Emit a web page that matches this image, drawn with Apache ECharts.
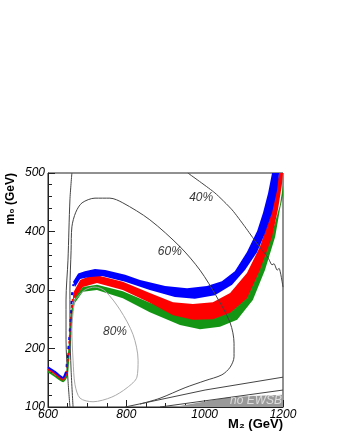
<!DOCTYPE html>
<html>
<head>
<meta charset="utf-8">
<script src="https://cdn.jsdelivr.net/npm/echarts@6/dist/echarts.min.js"></script>
<style>
  html, body { margin: 0; padding: 0; background: #fff; }
  #chart { width: 340px; height: 440px; }
</style>
</head>
<body>
<div id="chart"></div>
<script>
// M2 (GeV), m0 (GeV) pairs

// band edges (upper = top/left edge, lower = bottom/right edge)
const blueUpper = [[664,314],[677,328],[694,332],[720,336],[746,334],[797,326],[835,317],[899,307],[955,303],[1006,307],[1044,315],[1077,332],[1108,365],[1134,401],[1149,432],[1162,466],[1172,500]];
const blueLower = [[669,305],[682,319],[702,322],[738,324],[797,314],[860,300],[924,288],[975,285],[1026,291],[1070,309],[1103,334],[1134,365],[1154,397],[1172,432],[1185,471],[1190,500]];
const redUpper = [[664,295],[682,317],[707,324],[733,324],[791,314],[860,295],[919,279],[970,276],[1021,279],[1065,295],[1108,329],[1141,374],[1167,425],[1182,471],[1190,500]];
const redLower = [[664,283],[689,305],[725,312],[791,300],[860,278],[919,257],[970,249],[1021,250],[1065,261],[1108,286],[1141,334],[1172,391],[1187,437],[1197,479],[1200,500]];
const greenUpper = [[669,290],[689,305],[725,309],[791,298],[860,278],[919,263],[970,256],[1021,256],[1065,266],[1108,291],[1141,343],[1172,397],[1192,445],[1200,479]];
const greenLower = [[669,278],[689,297],[725,300],[791,286],[860,262],[937,240],[988,233],[1039,237],[1083,249],[1123,283],[1154,334],[1180,391],[1192,437],[1200,462]];

// thin part of the bands at low M2
const blueFlat = [[600,168],[618,160],[638,150],[646,160]];
const blueRise = [[646,160],[649,180],[654,215],[659,266],[661,291],[665,310]];
const redFlat = [[600,165],[618,157],[638,147],[647,157]];
const redRise = [[647,157],[650,178],[655,213],[660,264],[664,289]];
const greenThin = [[600,161],[618,153],[639,144],[648,154],[651,175],[656,210],[661,262],[668,284]];

// contours
const contour40 = [[957,500],[1026,466],[1070,437],[1103,408],[1133,380],[1162,355],[1172,343],[1177,345],[1185,334],[1190,337],[1200,305]];
const contour60 = [[664,100],[659,163],[656,232],[656,300],[659,368],[661,408],[671,433],[687,449],[720,457],[758,457],[791,449],[860,420],[937,374],[988,334],[1031,288],[1065,244],[1075,209],[1075,186],[1065,168],[1044,155],[1001,145],[950,133],[886,115],[835,105]];
const contourOuter = [[661,500],[656,454],[651,351],[646,283],[646,215],[651,146],[656,100]];
const contour80 = [[669,283],[694,300],[720,305],[746,298],[784,266],[817,224],[830,180],[827,151],[802,133],[763,117],[715,109],[682,115],[669,138],[664,180],[661,232],[666,274],[669,283]];
const lineLow1 = [[797,100],[1001,129],[1200,151]];
const lineLow2 = [[886,100],[1200,129]];
const noEwsb = [[922,100],[1065,117],[1200,121]];

const labelNames = ['40%', '60%', '80%'];
const labelPos = [[991,457],[911,365],[771,229]];
const noEwsbPos = [1131,110];

const font = 'Liberation Sans, Arial, Helvetica, sans-serif';

function band(upper, lower, color) {
  const outline = upper.concat(lower.slice().reverse());
  return {
    type: 'custom',
    coordinateSystem: 'cartesian2d',
    clip: true,
    silent: true,
    z: 3,
    data: [[600, 100]],
    renderItem: (params, api) => ({
      type: 'polygon',
      shape: { points: outline.map(p => api.coord(p)) },
      style: { fill: color }
    })
  };
}

function curve(data, color, width, extra) {
  return Object.assign({
    type: 'line',
    data: data,
    showSymbol: false,
    symbol: 'none',
    silent: true,
    smooth: 0.3,
    z: 4,
    lineStyle: { color: color, width: width }
  }, extra || {});
}

const chart = echarts.init(document.getElementById('chart'), null, { renderer: 'canvas' });

chart.setOption({
  animation: false,
  backgroundColor: '#fff',
  grid: { left: 48, right: 57, top: 173, bottom: 33, show: true, borderColor: '#222', borderWidth: 1 },
  xAxis: {
    type: 'value', min: 600, max: 1200, interval: 200,
    axisLine: { show: true, lineStyle: { color: '#222', width: 1 } },
    axisTick: { show: true, inside: true, length: 7, lineStyle: { color: '#222' } },
    minorTick: { show: true, splitNumber: 4, length: 4, lineStyle: { color: '#222' } },
    splitLine: { show: false },
    axisLabel: { color: '#000', fontSize: 12, fontStyle: 'italic', fontFamily: font, margin: 2, showMinLabel: true, showMaxLabel: true, formatter: v => String(v) }
  },
  yAxis: {
    type: 'value', min: 100, max: 500, interval: 100,
    axisLine: { show: true, lineStyle: { color: '#222', width: 1 } },
    axisTick: { show: true, inside: true, length: 7, lineStyle: { color: '#222' } },
    minorTick: { show: true, splitNumber: 5, length: 4, lineStyle: { color: '#222' } },
    splitLine: { show: false },
    axisLabel: { color: '#000', fontSize: 12, fontStyle: 'italic', fontFamily: font, margin: 3, showMinLabel: true, showMaxLabel: true, formatter: v => String(v) }
  },
  graphic: [
    {
      type: 'text', x: 11, y: 173, rotation: Math.PI / 2,
      style: { text: 'm₀ (GeV)', fill: '#000', font: 'bold 12px ' + font, textAlign: 'right', textVerticalAlign: 'middle' }
    },
    {
      type: 'text', x: 283, y: 424,
      style: { text: 'M₂ (GeV)', fill: '#000', font: 'bold 13px ' + font, textAlign: 'right', textVerticalAlign: 'middle' }
    }
  ],
  series: [
    {
      type: 'line', data: noEwsb, showSymbol: false, symbol: 'none', silent: true, z: 1,
      lineStyle: { width: 0 }, areaStyle: { color: '#999', opacity: 1, origin: 'start' }
    },
    band(greenUpper, greenLower, '#149614'),
    band(redUpper, redLower, '#ff0000'),
    band(blueUpper, blueLower, '#0000ff'),
    curve(greenThin, '#149614', 2, { smooth: 0.2, z: 3 }),
    curve(redFlat, '#ff0000', 2, { smooth: 0.2, z: 3 }),
    curve(redRise, '#ff0000', 2, { smooth: 0.2, z: 3, lineStyle: { color: '#ff0000', width: 2, type: [3, 3] } }),
    curve(blueFlat, '#0000ff', 2, { smooth: 0.2, z: 3 }),
    curve(blueRise, '#0000ff', 2, { smooth: 0.2, z: 3, lineStyle: { color: '#0000ff', width: 2, type: [3, 6], dashOffset: 4 } }),
    curve(contour40, '#444', 1, { smooth: 0.2 }),
    curve(contour60, '#444', 1),
    curve(contourOuter, '#444', 1),
    curve(contour80, '#aaa', 1),
    curve(lineLow1, '#444', 1, { smooth: 0 }),
    curve(lineLow2, '#444', 1, { smooth: 0 }),
    {
      type: 'scatter', silent: true, z: 5,
      symbolSize: 1, itemStyle: { color: 'rgba(0,0,0,0)' },
      data: labelPos.map((p, i) => ({ value: p, name: labelNames[i] })),
      label: { show: true, position: 'inside', formatter: '{b}', color: '#000', fontSize: 12, fontStyle: 'italic', fontFamily: font }
    },
    {
      type: 'scatter', silent: true, z: 5,
      symbolSize: 1, itemStyle: { color: 'rgba(0,0,0,0)' },
      data: [{ value: noEwsbPos, name: 'no EWSB' }],
      label: { show: true, position: 'inside', formatter: '{b}', color: '#eee', fontSize: 12, fontStyle: 'italic', fontFamily: font }
    }
  ]
});
</script>
</body>
</html>
